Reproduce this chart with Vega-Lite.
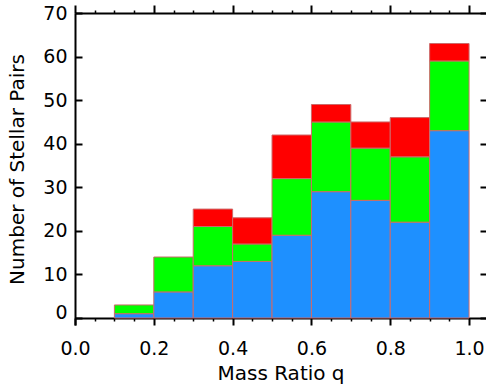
{
  "$schema": "https://vega.github.io/schema/vega-lite/v6.json",
  "autosize": {"type": "none"},
  "padding": {"left": 75, "top": 13, "right": 0, "bottom": 67},
  "width": 411,
  "height": 312,
  "background": "white",
  "config": {
    "view": {"stroke": null},
    "axis": {"grid": false, "domainColor": "black", "tickColor": "black", "labelColor": "black", "titleColor": "black",
      "labelFont": "DejaVu Sans", "titleFont": "DejaVu Sans", "labelFontSize": 19, "titleFontSize": 20, "titleFontWeight": "normal"}
  },
  "data": {"values": [
    {"start": 0.1, "end": 0.2, "group": "A", "rank": 1, "count": 1},
    {"start": 0.1, "end": 0.2, "group": "B", "rank": 2, "count": 2},
    {"start": 0.1, "end": 0.2, "group": "C", "rank": 3, "count": 0},
    {"start": 0.2, "end": 0.3, "group": "A", "rank": 1, "count": 6},
    {"start": 0.2, "end": 0.3, "group": "B", "rank": 2, "count": 8},
    {"start": 0.2, "end": 0.3, "group": "C", "rank": 3, "count": 0},
    {"start": 0.3, "end": 0.4, "group": "A", "rank": 1, "count": 12},
    {"start": 0.3, "end": 0.4, "group": "B", "rank": 2, "count": 9},
    {"start": 0.3, "end": 0.4, "group": "C", "rank": 3, "count": 4},
    {"start": 0.4, "end": 0.5, "group": "A", "rank": 1, "count": 13},
    {"start": 0.4, "end": 0.5, "group": "B", "rank": 2, "count": 4},
    {"start": 0.4, "end": 0.5, "group": "C", "rank": 3, "count": 6},
    {"start": 0.5, "end": 0.6, "group": "A", "rank": 1, "count": 19},
    {"start": 0.5, "end": 0.6, "group": "B", "rank": 2, "count": 13},
    {"start": 0.5, "end": 0.6, "group": "C", "rank": 3, "count": 10},
    {"start": 0.6, "end": 0.7, "group": "A", "rank": 1, "count": 29},
    {"start": 0.6, "end": 0.7, "group": "B", "rank": 2, "count": 16},
    {"start": 0.6, "end": 0.7, "group": "C", "rank": 3, "count": 4},
    {"start": 0.7, "end": 0.8, "group": "A", "rank": 1, "count": 27},
    {"start": 0.7, "end": 0.8, "group": "B", "rank": 2, "count": 12},
    {"start": 0.7, "end": 0.8, "group": "C", "rank": 3, "count": 6},
    {"start": 0.8, "end": 0.9, "group": "A", "rank": 1, "count": 22},
    {"start": 0.8, "end": 0.9, "group": "B", "rank": 2, "count": 15},
    {"start": 0.8, "end": 0.9, "group": "C", "rank": 3, "count": 9},
    {"start": 0.9, "end": 1.0, "group": "A", "rank": 1, "count": 43},
    {"start": 0.9, "end": 1.0, "group": "B", "rank": 2, "count": 16},
    {"start": 0.9, "end": 1.0, "group": "C", "rank": 3, "count": 4}
  ]},
  "transform": [
    {"stack": "count", "groupby": ["start"], "sort": [{"field": "rank", "order": "ascending"}], "as": ["lo", "hi"]}
  ],
  "resolve": {"axis": {"x": "independent", "y": "independent"}},
  "layer": [
    {
      "transform": [{"filter": "datum.count > 0"}],
      "mark": {"type": "bar", "stroke": "#cc6a6a", "strokeWidth": 1},
      "encoding": {
        "x": {"field": "start", "type": "quantitative",
          "scale": {"domain": [0, 1.043], "nice": false, "zero": false},
          "axis": {"orient": "bottom", "offset": -7, "values": [0, 0.2, 0.4, 0.6, 0.8, 1.0], "format": ".1f",
            "tickSize": 7, "tickWidth": 2, "domainWidth": 2, "labelPadding": 14, "labelFlush": false,
            "title": "Mass Ratio q", "titlePadding": 5}},
        "x2": {"field": "end"},
        "y": {"field": "lo", "type": "quantitative",
          "scale": {"domain": [-1.6, 70], "nice": false, "zero": false},
          "axis": {"orient": "left", "values": [0, 10, 20, 30, 40, 50, 60, 70],
            "tickSize": -7, "tickWidth": 2, "domainWidth": 2, "labelPadding": 15,
            "labelOffset": {"condition": {"test": "datum.value === 0", "value": -6}, "value": 0},
            "title": "Number of Stellar Pairs", "titlePadding": 15}},
        "y2": {"field": "hi"},
        "color": {"field": "group", "type": "nominal", "legend": null,
          "scale": {"domain": ["A", "B", "C"], "range": ["#1e90ff", "#00ff00", "#ff0000"]}}
      }
    },
    {
      "mark": {"type": "bar", "opacity": 0},
      "encoding": {
        "x": {"field": "start", "type": "quantitative",
          "scale": {"domain": [0, 1.043], "nice": false, "zero": false},
          "axis": {"orient": "bottom", "offset": -7, "values": [0.05, 0.1, 0.15, 0.25, 0.3, 0.35, 0.45, 0.5, 0.55, 0.65, 0.7, 0.75, 0.85, 0.9, 0.95],
            "tickSize": 3, "tickWidth": 1.5, "domain": false, "labels": false, "title": null}},
        "x2": {"field": "end"},
        "y": {"field": "lo", "type": "quantitative",
          "scale": {"domain": [-1.6, 70], "nice": false, "zero": false},
          "axis": {"orient": "right", "values": [0, 10, 20, 30, 40, 50, 60, 70],
            "tickSize": -6, "tickWidth": 2, "domain": false, "labels": false, "title": null}},
        "y2": {"field": "hi"}
      }
    },
    {
      "mark": {"type": "bar", "opacity": 0},
      "encoding": {
        "x": {"field": "start", "type": "quantitative",
          "scale": {"domain": [0, 1.043], "nice": false, "zero": false},
          "axis": {"orient": "top", "values": [0, 0.2, 0.4, 0.6, 0.8, 1.0],
            "tickSize": 8, "tickWidth": 2, "domainWidth": 2, "labels": false, "title": null,
            "encode": {"ticks": {"update": {"y": {"value": 6}, "y2": {"value": -8}}}}}},
        "x2": {"field": "end"},
        "y": {"field": "lo", "type": "quantitative",
          "scale": {"domain": [-1.6, 70], "nice": false, "zero": false}, "axis": null},
        "y2": {"field": "hi"}
      }
    },
    {
      "mark": {"type": "bar", "opacity": 0},
      "encoding": {
        "x": {"field": "start", "type": "quantitative",
          "scale": {"domain": [0, 1.043], "nice": false, "zero": false},
          "axis": {"orient": "top", "values": [0.05, 0.1, 0.15, 0.25, 0.3, 0.35, 0.45, 0.5, 0.55, 0.65, 0.7, 0.75, 0.85, 0.9, 0.95],
            "tickSize": 3, "tickWidth": 1.5, "domain": false, "labels": false, "title": null,
            "encode": {"ticks": {"update": {"y": {"value": 3}, "y2": {"value": -3}}}}}},
        "x2": {"field": "end"},
        "y": {"field": "lo", "type": "quantitative",
          "scale": {"domain": [-1.6, 70], "nice": false, "zero": false}, "axis": null},
        "y2": {"field": "hi"}
      }
    }
  ]
}
